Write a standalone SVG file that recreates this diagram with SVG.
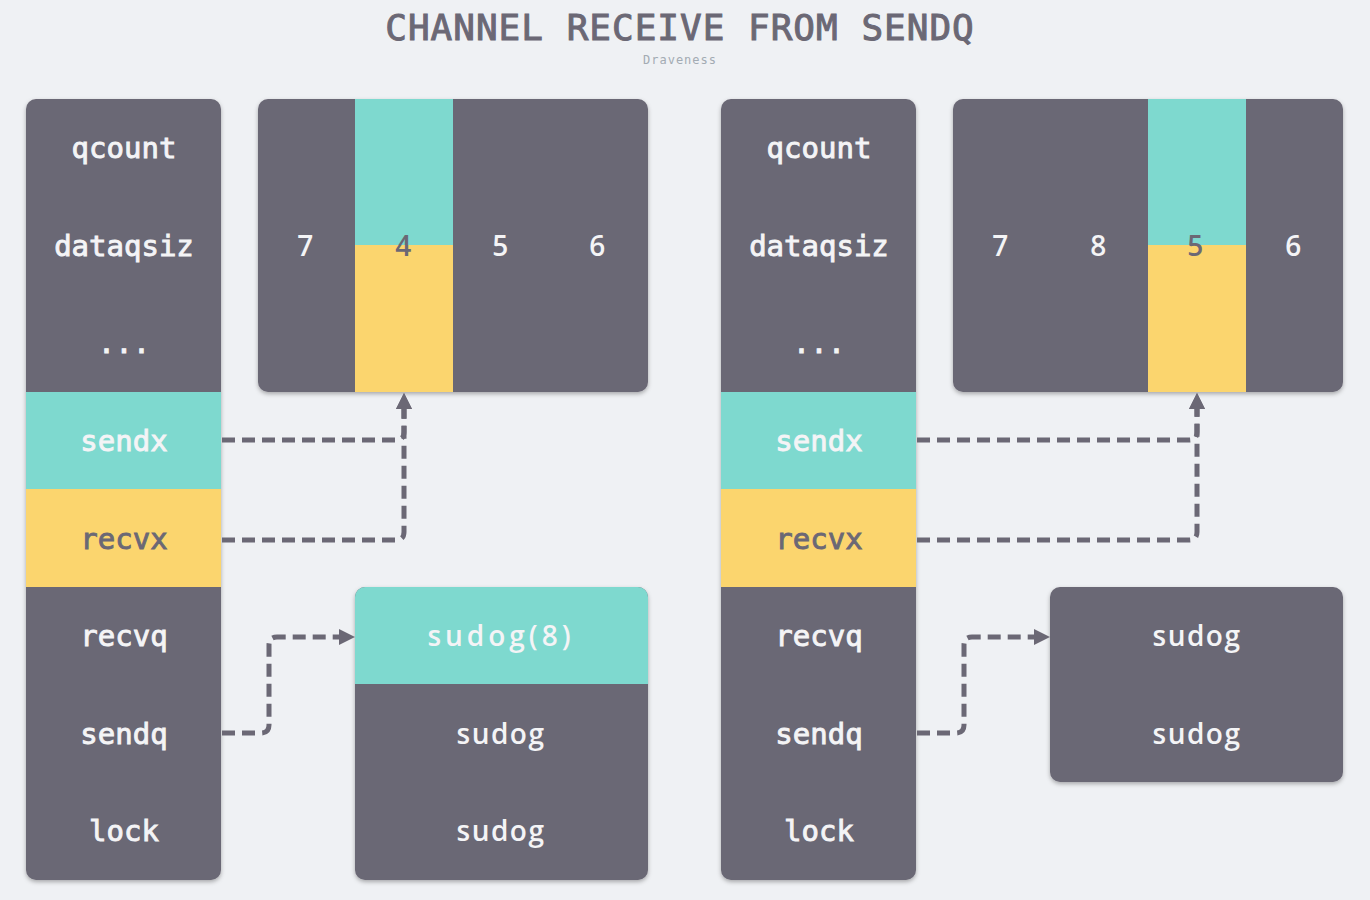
<svg xmlns="http://www.w3.org/2000/svg" width="1370" height="900" viewBox="0 0 1370 900">
<defs>
<filter id="sh" x="-10%" y="-10%" width="120%" height="120%">
<feDropShadow dx="0" dy="2" stdDeviation="2" flood-color="#000" flood-opacity="0.3"/>
</filter>
<marker id="ah" viewBox="0 0 10 10" refX="0" refY="5" markerWidth="3.2" markerHeight="3.2" orient="auto" markerUnits="strokeWidth">
<path d="M0,0 L10,5 L0,10 z" fill="#6b6875"/>
</marker>
<style>
.dark{fill:#6b6875}
.teal{fill:#7ed9cf}
.yel{fill:#fbd56e}
.f{font-family:"DejaVu Sans Mono","Liberation Mono",monospace;font-size:29px;fill:#f4f4f6;stroke:#f4f4f6;stroke-width:0.9px;text-anchor:middle}
.s{font-family:"Open Sans","Noto Sans",sans-serif;font-size:28px;font-weight:600;fill:#f4f4f6;text-anchor:middle;letter-spacing:1.5px}
.dk{fill:#6b6875;stroke:#6b6875}
.c{fill:none;stroke:#6b6875;stroke-width:5;stroke-dasharray:13 7}
</style>
</defs>
<rect width="1370" height="900" fill="#eff1f4"/>
<text x="680" y="40" font-family="DejaVu Sans Mono,Liberation Mono,monospace" font-size="36" fill="#6b6875" stroke="#6b6875" stroke-width="1" text-anchor="middle" letter-spacing="1">CHANNEL RECEIVE FROM SENDQ</text>
<text x="680" y="64" font-family="DejaVu Sans Mono,Liberation Mono,monospace" font-size="12" fill="#a3abb3" text-anchor="middle" letter-spacing="1">Draveness</text>

<g id="chan-left">
<rect x="26" y="99" width="195" height="781" rx="10" class="dark" filter="url(#sh)"/>
<rect x="26" y="392" width="195" height="98" class="teal"/>
<rect x="26" y="489" width="195" height="98" class="yel"/>
<text x="124" y="158" class="f">qcount</text>
<text x="124" y="256" class="f">dataqsiz</text>
<text x="124" y="353" class="f">...</text>
<text x="124" y="451" class="f">sendx</text>
<text x="124" y="549" class="f dk">recvx</text>
<text x="124" y="646" class="f">recvq</text>
<text x="124" y="744" class="f">sendq</text>
<text x="124" y="841" class="f">lock</text>
</g>

<g id="buf-left">
<rect x="258" y="99" width="390" height="293" rx="10" class="dark" filter="url(#sh)"/>
<rect x="355" y="99" width="98" height="147" class="teal"/>
<rect x="355" y="245" width="98" height="147" class="yel"/>
<text x="306" y="256" class="s">7</text>
<text x="404" y="256" class="s dk" style="stroke:none">4</text>
<text x="501" y="256" class="s">5</text>
<text x="598" y="256" class="s">6</text>
</g>

<g id="sudog-left">
<rect x="355" y="587" width="293" height="293" rx="10" class="dark" filter="url(#sh)"/>
<path d="M355,684 V597 a10,10 0 0 1 10,-10 H638 a10,10 0 0 1 10,10 V684 z" class="teal"/>
<text x="501" y="646" class="s" style="letter-spacing:4px">sudog(8)</text>
<text x="501" y="744" class="s">sudog</text>
<text x="501" y="841" class="s">sudog</text>
</g>

<g id="chan-right">
<rect x="721" y="99" width="195" height="781" rx="10" class="dark" filter="url(#sh)"/>
<rect x="721" y="392" width="195" height="98" class="teal"/>
<rect x="721" y="489" width="195" height="98" class="yel"/>
<text x="819" y="158" class="f">qcount</text>
<text x="819" y="256" class="f">dataqsiz</text>
<text x="819" y="353" class="f">...</text>
<text x="819" y="451" class="f">sendx</text>
<text x="819" y="549" class="f dk">recvx</text>
<text x="819" y="646" class="f">recvq</text>
<text x="819" y="744" class="f">sendq</text>
<text x="819" y="841" class="f">lock</text>
</g>

<g id="buf-right">
<rect x="953" y="99" width="390" height="293" rx="10" class="dark" filter="url(#sh)"/>
<rect x="1148" y="99" width="98" height="147" class="teal"/>
<rect x="1148" y="245" width="98" height="147" class="yel"/>
<text x="1001" y="256" class="s">7</text>
<text x="1099" y="256" class="s">8</text>
<text x="1196" y="256" class="s dk" style="stroke:none">5</text>
<text x="1294" y="256" class="s">6</text>
</g>

<g id="sudog-right">
<rect x="1050" y="587" width="293" height="195" rx="10" class="dark" filter="url(#sh)"/>
<text x="1197" y="646" class="s">sudog</text>
<text x="1197" y="744" class="s">sudog</text>
</g>

<g id="connectors">
<path class="c" d="M222,440 H396 Q404,440 404,432 V409" marker-end="url(#ah)"/>
<path class="c" d="M222,540 H396 Q404,540 404,532 V409" marker-end="url(#ah)"/>
<path class="c" d="M222,733 H261 Q269,733 269,725 V645 Q269,637 277,637 H339" marker-end="url(#ah)"/>
<path class="c" d="M917,440 H1189 Q1197,440 1197,432 V409" marker-end="url(#ah)"/>
<path class="c" d="M917,540 H1189 Q1197,540 1197,532 V409" marker-end="url(#ah)"/>
<path class="c" d="M917,733 H956 Q964,733 964,725 V645 Q964,637 972,637 H1034" marker-end="url(#ah)"/>
</g>
</svg>
